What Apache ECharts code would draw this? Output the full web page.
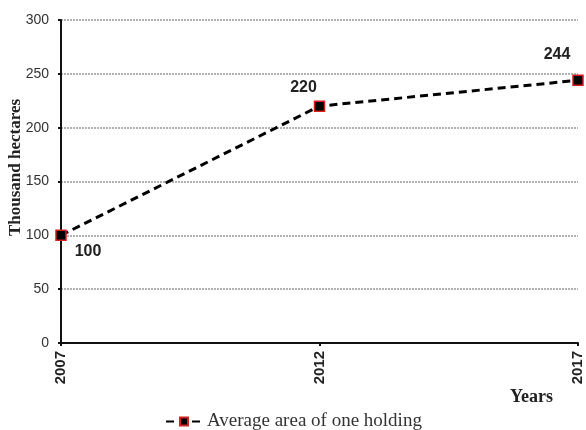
<!DOCTYPE html>
<html><head><meta charset="utf-8">
<script src="https://cdn.jsdelivr.net/npm/echarts@6/dist/echarts.min.js"></script>
<style>html,body{margin:0;padding:0;background:#fff}#c{width:586px;height:430px}</style>
</head><body><div id="c"></div>
<script>
var years = ['2007', '2012', '2017'];
var avgArea = [100, 220, 244];
var labelPos = [[27, 16], [-16, -19], [-21, -26]];
var seriesName = 'Average area of one holding';

var chart = echarts.init(document.getElementById('c'));
chart.setOption({
  animation: false,
  grid: {left: 61, right: 8, top: 20, bottom: 87, containLabel: false, outerBoundsMode: 'none'},
  legend: {
    top: 407, left: 160,
    itemWidth: 36, itemHeight: 10, itemGap: 4,
    textStyle: {fontFamily: 'Liberation Serif', fontSize: 19, color: '#333'},
    data: [{name: seriesName}]
  },
  xAxis: {
    type: 'category', data: years, boundaryGap: false,
    name: 'Years', nameLocation: 'end', nameGap: 0, nameMoveOverlap: false,
    nameTextStyle: {fontFamily: 'Liberation Serif', fontWeight: 'bold', fontSize: 18, color: '#222', align: 'right', verticalAlign: 'top', padding: [45, 25, 0, 0]},
    axisLine: {lineStyle: {color: '#111', width: 2}},
    axisTick: {show: true, alignWithLabel: true, length: 3, lineStyle: {color: '#111', width: 2}},
    axisLabel: {rotate: 90, fontFamily: 'Liberation Sans', fontWeight: 'bold', fontSize: 15, color: '#222', margin: 8},
    splitLine: {show: false}
  },
  yAxis: {
    type: 'value', min: 0, max: 300, interval: 50,
    name: 'Thousand hectares', nameLocation: 'middle', nameGap: 37, nameRotate: 90, nameMoveOverlap: false,
    nameTextStyle: {fontFamily: 'Liberation Serif', fontWeight: 'bold', fontSize: 17, color: '#222', padding: [0, 0, 0, 28]},
    axisLine: {show: true, lineStyle: {color: '#111', width: 2}},
    axisTick: {show: true, length: 3, lineStyle: {color: '#111', width: 2}},
    axisLabel: {fontFamily: 'Liberation Sans', fontSize: 14, color: '#333', margin: 12},
    splitLine: {show: true, lineStyle: {color: '#999', type: [2, 1], width: 1.5}}
  },
  series: [{
    name: seriesName, type: 'line',
    data: avgArea.map(function (v, i) {
      return {value: v, label: {offset: labelPos[i]}};
    }),
    symbol: 'rect', symbolSize: 10,
    itemStyle: {color: '#000', borderColor: '#d02020', borderWidth: 1.5},
    lineStyle: {color: '#000', width: 3, type: [8, 5]},
    label: {show: true, position: 'inside', fontFamily: 'Liberation Sans', fontWeight: 'bold', fontSize: 16, color: '#222'}
  }]
});
</script></body></html>
